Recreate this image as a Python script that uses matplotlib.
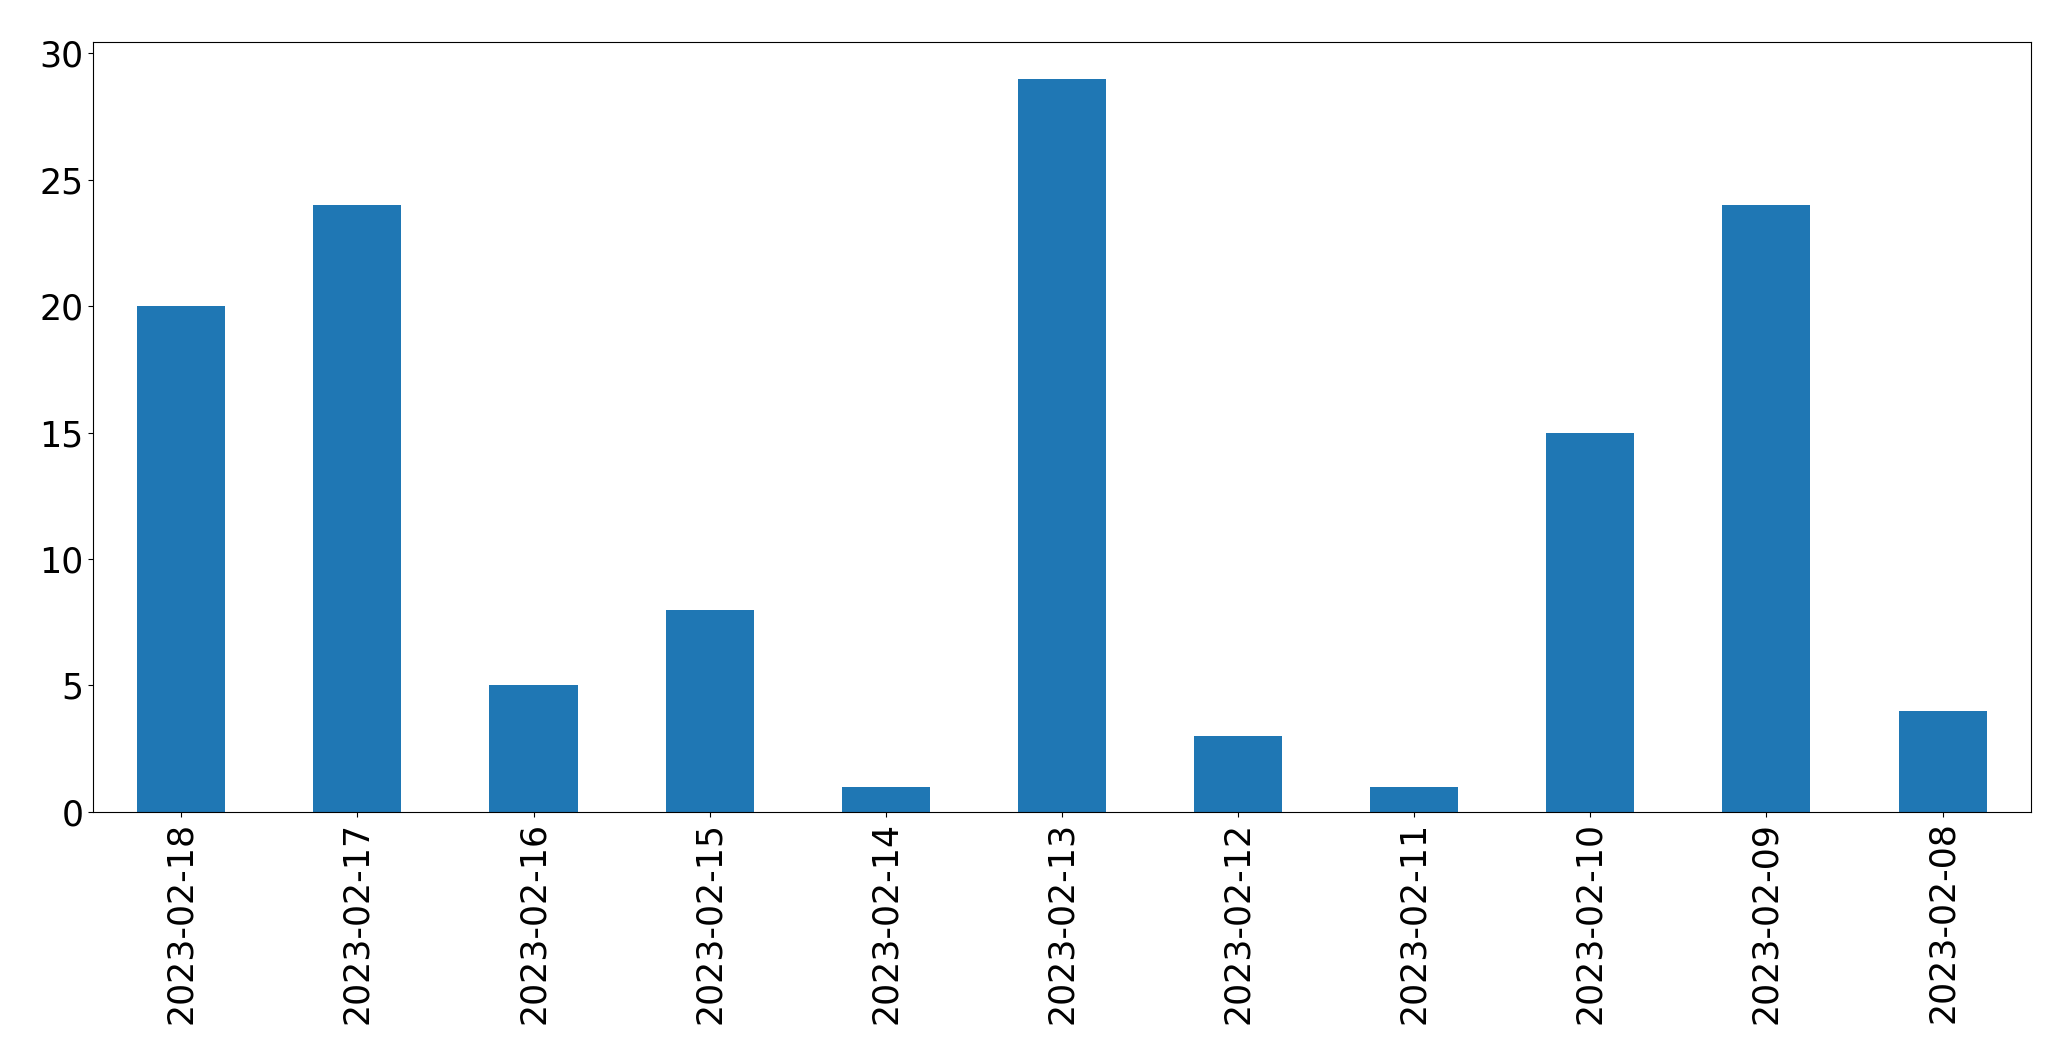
import matplotlib
matplotlib.use("Agg")
import matplotlib.pyplot as plt
import pandas as pd

# Counts per day (descending dates, as in the reference)
dates = ["2023-02-18", "2023-02-17", "2023-02-16", "2023-02-15", "2023-02-14",
         "2023-02-13", "2023-02-12", "2023-02-11", "2023-02-10", "2023-02-09",
         "2023-02-08"]
counts = [20, 24, 5, 8, 1, 29, 3, 1, 15, 24, 4]

series = pd.Series(counts, index=dates)

fig = plt.figure(figsize=(20.71, 10.64), dpi=100)
ax = fig.add_axes([0.0450, 0.237, 0.9355, 0.7235])
series.plot(kind="bar", ax=ax, color="#1f77b4", fontsize=25)
ax.tick_params(axis="both", labelsize=25)

fig.savefig("out.png", dpi=100)
